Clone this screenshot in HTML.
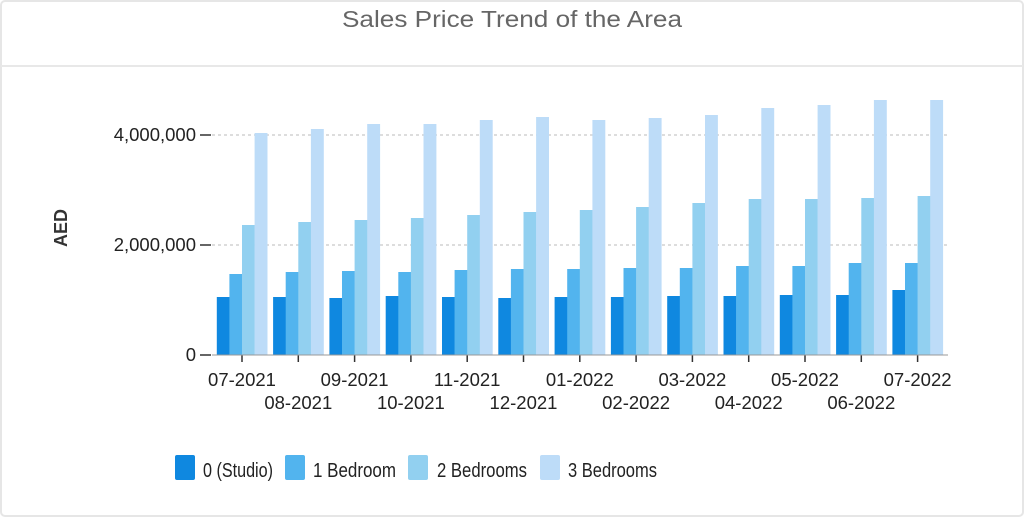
<!DOCTYPE html>
<html><head><meta charset="utf-8"><style>
html,body{margin:0;padding:0;background:#fff;}
svg{display:block;font-family:"Liberation Sans",sans-serif;}
</style></head><body>
<svg id="c" width="1024" height="517" xmlns="http://www.w3.org/2000/svg">
<rect x="1" y="1" width="1022" height="515" rx="4" fill="#fff" stroke="#e6e6e6" stroke-width="2"/>
<line x1="1" y1="66" x2="1023" y2="66" stroke="#e8e8e8" stroke-width="2"/>
<text x="342" y="27" textLength="340" lengthAdjust="spacingAndGlyphs" font-size="23" fill="#666">Sales Price Trend of the Area</text>
<g stroke="#bbb" stroke-dasharray="3,3" stroke-width="1">
<line x1="212" y1="135" x2="948" y2="135"/>
<line x1="212" y1="245" x2="948" y2="245"/>
<line x1="212" y1="355" x2="948" y2="355"/>
</g>
<g stroke="#333" stroke-width="1.5">
<line x1="200" y1="135" x2="211" y2="135"/>
<line x1="200" y1="245" x2="211" y2="245"/>
<line x1="200" y1="355" x2="211" y2="355"/>
</g>
<g font-size="18.5" fill="#222" text-anchor="end">
<text x="196" y="141">4,000,000</text>
<text x="196" y="251">2,000,000</text>
<text x="196" y="361">0</text>
</g>
<text transform="translate(67,228) rotate(-90)" text-anchor="middle" font-size="18" font-weight="bold" fill="#333">AED</text>
<g id="bars"></g>
<g font-size="20" fill="#222">
<rect x="175" y="455" width="20" height="25" rx="2" fill="#0f88e0"/><text x="203" y="477" textLength="70" lengthAdjust="spacingAndGlyphs">0 (Studio)</text>
<rect x="285" y="455" width="20" height="25" rx="2" fill="#52b4ee"/><text x="313" y="477" textLength="83" lengthAdjust="spacingAndGlyphs">1 Bedroom</text>
<rect x="408" y="455" width="20" height="25" rx="2" fill="#92d0f0"/><text x="437" y="477" textLength="90" lengthAdjust="spacingAndGlyphs">2 Bedrooms</text>
<rect x="540" y="455" width="20" height="25" rx="2" fill="#bddcf8"/><text x="568" y="477" textLength="89" lengthAdjust="spacingAndGlyphs">3 Bedrooms</text>
</g>
</svg>
<script>
var tops=[[297,297,298,296,297,298,297,297,296,296,295,295,290],
[274,272,271,272,270,269,269,268,268,266,266,263,263],
[225,222,220,218,215,212,210,207,203,199,199,198,196],
[133,129,124,124,120,117,120,118,115,108,105,100,100]];
var cols=["#0f88e0","#52b4ee","#92d0f0","#bddcf8"];
var labels=["07-2021","08-2021","09-2021","10-2021","11-2021","12-2021","01-2022","02-2022","03-2022","04-2022","05-2022","06-2022","07-2022"];
var s="",sp=56.3,bw=12.6;
for(var g=0;g<13;g++){
 var cx=242+g*sp,x0=cx-25.2;
 for(var k=0;k<4;k++){
  s+='<rect x="'+(x0+k*bw)+'" y="'+tops[k][g]+'" width="'+(bw+0.3)+'" height="'+(355-tops[k][g])+'" fill="'+cols[k]+'"/>';
 }
 s+='<line x1="'+cx+'" y1="355" x2="'+cx+'" y2="362" stroke="#333" stroke-width="1.5"/>';
 var y=(g%2==0)?386:409;
 s+='<text x="'+cx+'" y="'+y+'" text-anchor="middle" font-size="18.5" fill="#222">'+labels[g]+'</text>';
}
s+='<line x1="212" y1="355" x2="948" y2="355" stroke="#999" stroke-width="1"/>';
document.getElementById("bars").innerHTML=s;
</script>
</body></html>
